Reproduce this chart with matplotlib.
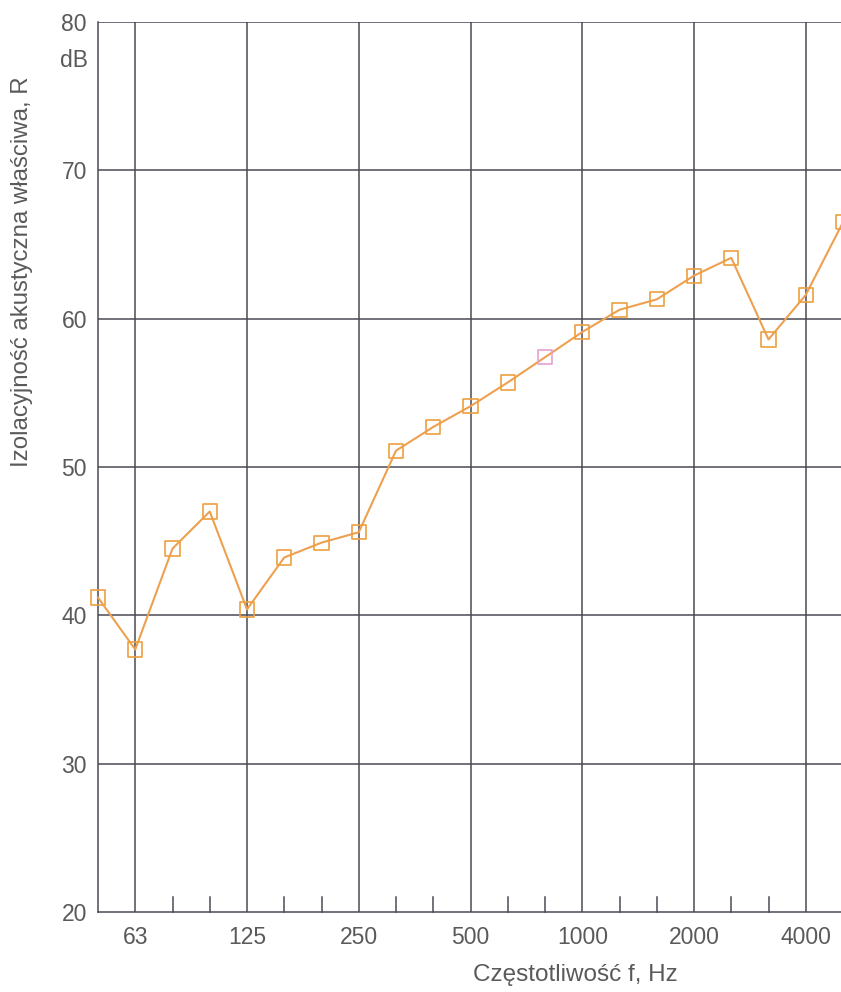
import matplotlib.pyplot as plt
import numpy as np

plt.rcParams['font.family'] = ['Liberation Sans', 'DejaVu Sans']

# third-octave band centre frequencies, Hz
bands = [50, 63, 80, 100, 125, 160, 200, 250, 315, 400, 500, 630, 800,
         1000, 1250, 1600, 2000, 2500, 3150, 4000, 5000]
# sound reduction index R, dB
R = [41.2, 37.7, 44.5, 47.0, 40.4, 43.9, 44.9, 45.6, 51.1, 52.7, 54.1,
     55.7, 57.4, 59.1, 60.6, 61.3, 62.9, 64.1, 58.6, 61.6, 66.5]
octave_labels = ['63', '125', '250', '500', '1000', '2000', '4000']
y_ticks = [20, 30, 40, 50, 60, 70, 80]

W, H = 841, 992
fig = plt.figure(figsize=(W / 100, H / 100), dpi=100)
x0, x1 = 98, 843
y0, y1 = 912, 22
ax = fig.add_axes([x0 / W, 1 - y0 / H, (x1 - x0) / W, (y0 - y1) / H])

xs = np.arange(len(bands))
ax.set_xlim(0, len(bands) - 1)
ax.set_ylim(20, 80)

grid_c = '#4a4a55'
txt_c = '#5a5a5a'

# octave lines full height, other bands only short ticks at the bottom
oct_idx = [bands.index(int(f)) for f in octave_labels]
for i in oct_idx:
    ax.axvline(i, color=grid_c, lw=1.1, zorder=1)
for i in xs:
    if i not in oct_idx and i != 0:
        ax.plot([i, i], [20, 21.0], color=grid_c, lw=1.1, zorder=1, clip_on=False)
for v in y_ticks[1:]:
    ax.axhline(v, color=grid_c, lw=1.1, zorder=1)

for s in ['top', 'right']:
    ax.spines[s].set_visible(False)
for s in ['left', 'bottom']:
    ax.spines[s].set_color(grid_c)
    ax.spines[s].set_linewidth(1.1)

ax.set_xticks(oct_idx)
ax.set_xticklabels(octave_labels)
ax.set_yticks(y_ticks)
ax.set_yticklabels([str(v) for v in y_ticks])
ax.tick_params(length=0, labelsize=16.5, colors=txt_c, pad=8)
ax.tick_params(axis='x', pad=10)

ax.text(-0.27, 77.4, 'dB', fontsize=16.5, color=txt_c, ha='right', va='center')

ax.plot(xs, R, color='#eda050', lw=1.5, zorder=3, clip_on=False)
mcols = ['#eda040'] * len(bands)
mcols[bands.index(800)] = '#e8a0d0'
ax.scatter(xs, R, marker='s', s=105, facecolors='none', edgecolors=mcols,
           linewidths=1.2, zorder=4, clip_on=False)

fig.text(575 / W, 1 - 975 / H, 'Częstotliwość f, Hz', fontsize=17.5,
         color=txt_c, ha='center', va='center')
fig.text(22 / W, 1 - 272 / H, 'Izolacyjność akustyczna właściwa, R',
         fontsize=17.3, color=txt_c, ha='center', va='center', rotation=90)

fig.savefig('out.png', dpi=100)
